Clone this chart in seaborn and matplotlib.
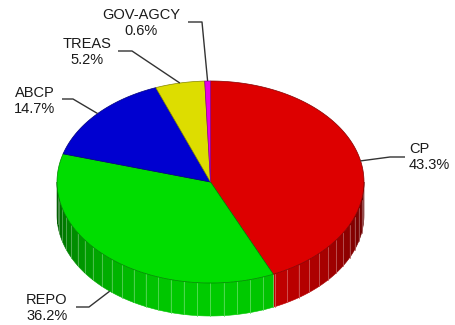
import numpy as np
import matplotlib
matplotlib.use("Agg")
import matplotlib.pyplot as plt
import seaborn as sns
from matplotlib.patches import Polygon
from matplotlib.colors import to_rgb

# ---- data ----
categories = ["CP", "REPO", "ABCP", "TREAS", "GOV-AGCY"]
shares = [43.3, 36.2, 14.7, 5.2, 0.6]
colors = ["#dd0000", "#00dd00", "#0000d0", "#dddd00", "#e800e8"]

# ---- layout (not data) ----
# text x, text y, horizontal alignment, leader y, leader elbow x, leader end x
label_layout = [
    (409, 157, "left", 157, 390, 405),
    (47, 308, "center", 307, 89, 76),
    (34.5, 101, "center", 99, 73, 62),
    (87, 52, "center", 51, 132, 118),
    (141.5, 23, "center", 22, 202, 188),
]

sns.set_theme(style="white")
plt.rcParams["font.family"] = ["Liberation Sans", "DejaVu Sans"]

fig = plt.figure(figsize=(4.56, 3.25), dpi=100)
ax = fig.add_axes([0, 0, 1, 1])
ax.set_xlim(0, 456)
ax.set_ylim(325, 0)
ax.axis("off")

cx, cy, rx, ry, depth = 210.5, 182.0, 153.5, 101.0, 33.0


def pt(theta_deg, dy=0.0):
    t = np.radians(theta_deg)
    return cx + rx * np.sin(t), cy - ry * np.cos(t) + dy


total = float(sum(shares))
bounds = np.concatenate([[0.0], np.cumsum(shares)]) / total * 360.0

# ---- side walls (front half only) ----
step = 5.0
for i, col in enumerate(colors):
    a, b = bounds[i], bounds[i + 1]
    lo, hi = max(a, 90.0), min(b, 270.0)
    if lo >= hi:
        continue
    base = np.array(to_rgb(col))
    edges = [lo] + [k * step for k in range(int(np.ceil(lo / step)), int(np.floor(hi / step)) + 1)
                    if lo < k * step < hi] + [hi]
    for t0, t1 in zip(edges[:-1], edges[1:]):
        arc = np.linspace(t0, t1, 5)
        top = [pt(t) for t in arc]
        bot = [pt(t, depth) for t in arc[::-1]]
        mid = np.radians((t0 + t1) / 2)
        shade = 0.4 + 0.52 * abs(np.cos(mid))
        fc = np.clip(base * shade, 0, 1)
        ax.add_patch(Polygon(top + bot, closed=True, facecolor=fc, edgecolor=fc,
                             linewidth=0.4, zorder=1))
    for t in edges:
        if t in (90.0, 270.0):
            continue
        mid = np.radians(t)
        shade = 0.4 + 0.52 * abs(np.cos(mid))
        lc = np.clip(base * shade, 0, 1) * 0.65 + 0.35
        x0, y0 = pt(t)
        x1, y1 = pt(t, depth)
        ax.plot([x0, x1], [y0, y1], color=lc, lw=0.6, zorder=2)

# ---- top surface ----
for i, col in enumerate(colors):
    a, b = bounds[i], bounds[i + 1]
    n = max(3, int((b - a) / 1.0) + 2)
    arc = np.linspace(a, b, n)
    poly = [(cx, cy)] + [pt(t) for t in arc]
    base = np.array(to_rgb(col))
    ax.add_patch(Polygon(poly, closed=True, facecolor=col, edgecolor=base * 0.6,
                         linewidth=0.5, zorder=3))

# ---- labels with leader lines ----
for i, (name, share) in enumerate(zip(categories, shares)):
    tx, ty, ha, ly, ex, sx = label_layout[i]
    mid = (bounds[i] + bounds[i + 1]) / 2
    dy = depth if np.cos(np.radians(mid)) < 0 else 0.0
    axp, ayp = pt(mid, dy)
    ax.plot([sx, ex, axp], [ly, ly, ayp], color="#333333", lw=1.0, zorder=4,
            solid_capstyle="butt")
    ax.text(tx, ty, f"{name}\n{share:.1f}%", ha=ha, va="center", ma=ha,
            fontsize=10.5, color="#1a1a1a", linespacing=1.25, zorder=5)

fig.savefig("out.png", dpi=100)
